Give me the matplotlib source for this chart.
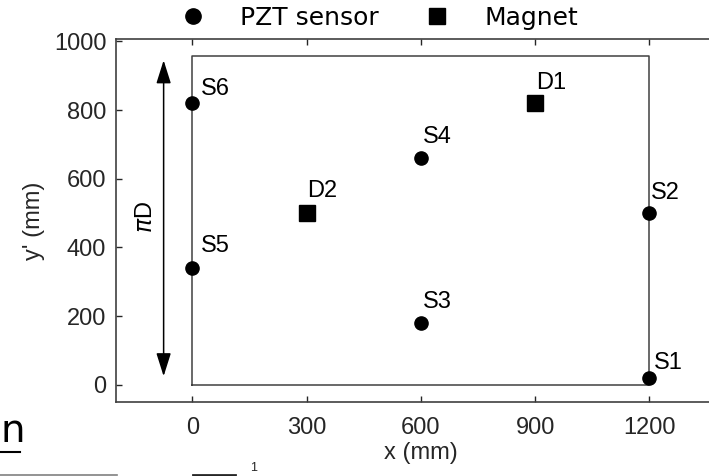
import matplotlib
matplotlib.use("Agg")
import matplotlib.pyplot as plt
from matplotlib.lines import Line2D

# sensor and magnet positions (mm)
sensor_names = ["S1", "S2", "S3", "S4", "S5", "S6"]
sensor_x = [1200, 1200, 600, 600, 0, 0]
sensor_y = [20, 500, 180, 660, 340, 820]
magnet_names = ["D1", "D2"]
magnet_x = [900, 300]
magnet_y = [820, 500]

# unrolled pipe surface
plate_w = 1200
plate_h = 958

xticks = [0, 300, 600, 900, 1200]
yticks = [0, 200, 400, 600, 800, 1000]

# label offsets in pixels (dx, dy), measured to the text baseline
sensor_off = [(4, 9), (1, 14), (2, 15), (2, 15), (9, 16), (9, 8)]
magnet_off = [(1, 14), (1, 16)]

plt.rcParams['font.family'] = ['Liberation Sans', 'DejaVu Sans']
dark = '#262626'

fig = plt.figure(figsize=(7.09, 4.76), dpi=100)
ax = fig.add_axes([116/709, 74/476, 609.6/709, 363/476])

# outline of the plate
ax.plot([0, plate_w, plate_w, 0, 0], [0, 0, plate_h, plate_h, 0],
        color='#404040', lw=1.1, zorder=1)

ax.plot(sensor_x, sensor_y, 'o', color='black', ms=9.5, ls='none', zorder=3)
ax.plot(magnet_x, magnet_y, 's', color='black', ms=11.5, ls='none', zorder=3)

px = 72/100
for n, x, y, (dx, dy) in zip(sensor_names, sensor_x, sensor_y, sensor_off):
    ax.annotate(n, (x, y), xytext=(dx*px, dy*px), textcoords='offset points',
                ha='left', va='baseline', fontsize=17, color='black')
for n, x, y, (dx, dy) in zip(magnet_names, magnet_x, magnet_y, magnet_off):
    ax.annotate(n, (x, y), xytext=(dx*px, dy*px), textcoords='offset points',
                ha='left', va='baseline', fontsize=17, color='black')

# circumference arrow
ax.annotate('', xy=(-75, 945), xytext=(-75, 25),
            arrowprops=dict(arrowstyle='<|-|>,head_length=0.95,head_width=0.3',
                            color='black', lw=1.1, shrinkA=0, shrinkB=0,
                            mutation_scale=15))
ax.text(-122, 490, r'$\pi$D', rotation=90, ha='center', va='center',
        fontsize=17, color='black')

ax.set_xlim(-200, 1400)
ax.set_ylim(-50, 1007)
ax.set_xticks(xticks)
ax.set_yticks(yticks)
ax.tick_params(direction='in', length=4, width=1, colors=dark,
               labelsize=17, top=True, right=True)
ax.tick_params(axis='x', pad=11)
ax.tick_params(axis='y', pad=7)
for s in ax.spines.values():
    s.set_color('#404040')
    s.set_linewidth(1.2)
ax.set_xlabel('x (mm)', fontsize=17, color=dark, labelpad=2)
ax.set_ylabel("y' (mm)", fontsize=17, color=dark, labelpad=6)

handles = [Line2D([], [], marker='o', color='black', ls='none', ms=11),
           Line2D([], [], marker='s', color='black', ls='none', ms=11)]
leg = ax.legend(handles, ['PZT sensor', 'Magnet'], loc='center left',
                bbox_to_anchor=(0.0853, 1.058), ncol=2, frameon=False,
                borderpad=0, borderaxespad=0, handlelength=2,
                handletextpad=0.9, columnspacing=1.3,
                prop={'family': 'DejaVu Sans', 'size': 18})

# bits of neighbouring content at the edge of the picture
fig.text(0.0, 1 - 442/476, 'n', fontsize=28, family='DejaVu Sans',
         color='black', ha='left', va='baseline')
fig.add_artist(Line2D([0, 20/709], [1 - 452/476, 1 - 452/476],
                      color='black', lw=1.5))
fig.add_artist(Line2D([0, 117/709], [1 - 475/476, 1 - 475/476],
                      color='#808080', lw=1.2))
fig.add_artist(Line2D([193/709, 235/709], [1 - 475/476, 1 - 475/476],
                      color='#262626', lw=2))
fig.text(250/709, 2/476, '1', fontsize=9, color=dark,
         ha='left', va='bottom')

fig.savefig('out.png', dpi=100)
